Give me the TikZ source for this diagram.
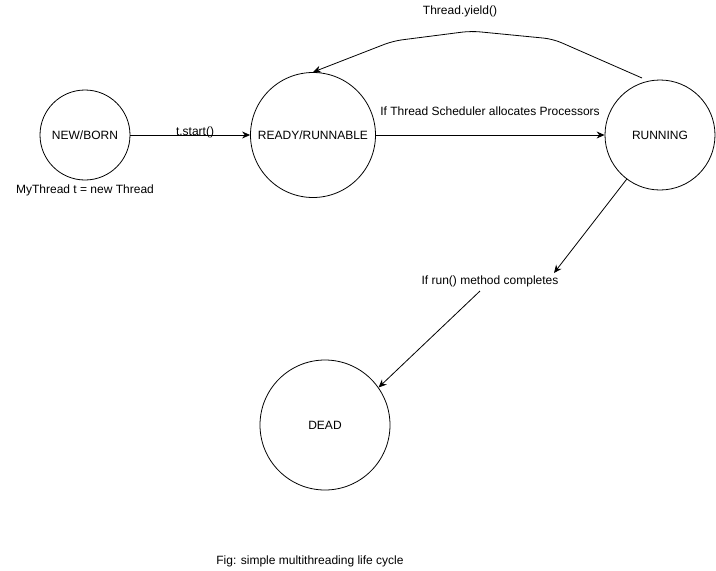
\documentclass[tikz,border=0pt]{standalone}
\usepackage{fontspec}
\setmainfont{Liberation Sans}
\usetikzlibrary{arrows.meta}
\begin{document}
\begin{tikzpicture}[x=1pt,y=-1pt,
  every node/.style={font=\fontsize{12}{14}\selectfont, inner sep=0pt},
  state/.style={draw, circle, line width=0.8pt},
  conn/.style={draw, line width=0.8pt, -{Stealth[length=8pt,width=7pt]}},
  lbl/.style={text=black}]
  \useasboundingbox (0,0) rectangle (716,571);

  % states
  \node[state, minimum size=90pt]  (new)   at (85,135)  {NEW/BORN};
  \node[state, minimum size=125pt] (ready) at (313,135) {READY/RUNNABLE};
  \node[state, minimum size=110pt] (run)   at (660,135) {RUNNING};
  \node[state, minimum size=130pt] (dead)  at (325,425) {DEAD};

  % labels
  \node[lbl] (create) at (85,190)  {MyThread t = new Thread};
  \node[lbl] (start)  at (195,132.5) {t.start()};
  \node[lbl] (sched)  at (490,111) {If Thread Scheduler allocates Processors};
  \node[lbl] (yield)  at (460,11)  {Thread.yield()};
  \node[lbl] (done)   at (490,281) {If run() method completes};
  \node[lbl] (cap)    at (310,561) {Fig: simple multithreading life cycle};

  % transitions
  \draw[conn] (new) -- (ready);
  \draw[conn] (ready) -- (run);
  \coordinate (y0) at (642,78);
  \draw[conn, rounded corners=9pt] (y0) -- (553,39) -- (471,31) -- (393,41) -- (ready.90);
  \coordinate (d1) at (554,273);
  \coordinate (d2) at (480,291);
  \draw[conn] (run.-127) -- (d1);
  \draw[conn] (d2) -- (dead.35);
\end{tikzpicture}
\end{document}
